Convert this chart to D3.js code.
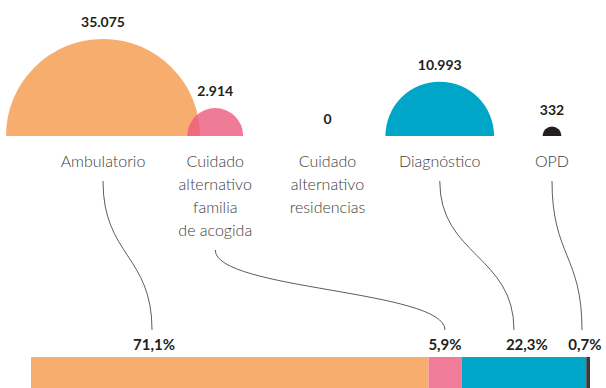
<!DOCTYPE html>
<html>
<head>
<meta charset="utf-8">
<script src="https://cdn.jsdelivr.net/npm/d3@7"></script>
<style>
  html, body { margin: 0; padding: 0; background: #fff; }
  svg { display: block; }
  .cat { font-family: Lato, "Open Sans", sans-serif; font-weight: 300; font-size: 16px; fill: #3d3d3d; }
  .val { font-family: Lato, "Open Sans", sans-serif; font-weight: 700; font-size: 14px; fill: #231f20; }
  .pct { font-family: Lato, "Open Sans", sans-serif; font-weight: 700; font-size: 15px; fill: #231f20; }
</style>
</head>
<body>
<svg id="chart" width="606" height="388"></svg>
<script>
// Programas de atención: número de atenciones por modalidad
const categories = ["Ambulatorio", "Cuidado alternativo familia de acogida", "Cuidado alternativo residencias", "Diagnóstico", "OPD"];
const labelLines = [
  ["Ambulatorio"],
  ["Cuidado", "alternativo", "familia", "de acogida"],
  ["Cuidado", "alternativo", "residencias"],
  ["Diagnóstico"],
  ["OPD"]
];
const values = [35075, 2914, 0, 10993, 332];
const colors = ["#f7ad6e", "#ec5a7f", "#00a6c7", "#00a6c7", "#231f20"];
const barColors = ["#f7ad6e", "#f17c99", "#00a6c7", "#00a6c7", "#3a3a3a"];
const fillOpacity = [1, 0.8, 1, 1, 1];

// Layout: where each connector lands and where each percentage sits (share of the bar width)
const linkEndAt = [0.2165, 0.7406, null, 0.864, 0.9857];
const pctLabelAt = [0.22, 0.7406, null, 0.887, 0.991];

const svg = d3.select("#chart");
const loc = d3.formatLocale({ decimal: ",", thousands: ".", grouping: [3], currency: ["$", ""] });
const fmtNum = loc.format(",");
const fmtPct = loc.format(".1%");

const baseY = 136;
const x = d3.scalePoint().domain(categories).range([103, 552]);
const r = d3.scaleSqrt().domain([0, d3.max(values)]).range([0, 97]);

const data = categories.map((c, i) => ({ c, i, v: values[i] }));

// Half circles sized by area
const arc = d3.arc().innerRadius(0).startAngle(-Math.PI / 2).endAngle(Math.PI / 2);
svg.append("g").selectAll("path")
  .data(data.filter(d => d.v > 0))
  .join("path")
  .attr("transform", d => `translate(${x(d.c)},${baseY})`)
  .attr("d", d => arc({ outerRadius: r(d.v) }))
  .attr("fill", d => colors[d.i])
  .attr("fill-opacity", d => fillOpacity[d.i]);

// Value labels above each half circle
svg.append("g").selectAll("text")
  .data(data)
  .join("text")
  .attr("class", "val")
  .attr("text-anchor", "middle")
  .attr("x", d => x(d.c))
  .attr("y", d => baseY - r(d.v) - 12)
  .text(d => fmtNum(d.v));

// Category names
const firstLineY = 167, lineH = 23;
const catG = svg.append("g").selectAll("text")
  .data(data)
  .join("text")
  .attr("class", "cat")
  .attr("text-anchor", "middle")
  .attr("x", d => x(d.c))
  .attr("y", firstLineY);
catG.selectAll("tspan")
  .data(d => labelLines[d.i].map(t => ({ t, x: x(d.c) })))
  .join("tspan")
  .attr("x", d => d.x)
  .attr("dy", (d, j) => j === 0 ? 0 : lineH)
  .text(d => d.t);

// Stacked share bar
const total = d3.sum(values);
const bx = d3.scaleLinear().domain([0, total]).range([31, 590]);
const starts = d3.cumsum([0, ...values]);
const barTop = 357, barBottom = 392;
svg.append("g").selectAll("rect")
  .data(data.filter(d => d.v > 0))
  .join("rect")
  .attr("x", d => bx(starts[d.i]))
  .attr("width", d => bx(starts[d.i] + d.v) - bx(starts[d.i]))
  .attr("y", barTop)
  .attr("height", barBottom - barTop)
  .attr("fill", d => barColors[d.i]);

const share = d => bx.range()[0] + share.w * d;
share.w = bx.range()[1] - bx.range()[0];

// Percentages
svg.append("g").selectAll("text")
  .data(data.filter(d => d.v > 0))
  .join("text")
  .attr("class", "pct")
  .attr("text-anchor", "middle")
  .attr("x", d => share(pctLabelAt[d.i]))
  .attr("y", 350)
  .text(d => fmtPct(d.v / total));

// Connectors from names to percentages
const link = d3.linkVertical();
svg.append("g").selectAll("path")
  .data(data.filter(d => d.v > 0))
  .join("path")
  .attr("d", d => link({
    source: [x(d.c), firstLineY + (labelLines[d.i].length - 1) * lineH + 14],
    target: [share(linkEndAt[d.i]), 330]
  }))
  .attr("fill", "none")
  .attr("stroke", "#333")
  .attr("stroke-width", 0.8);
</script>
</body>
</html>
